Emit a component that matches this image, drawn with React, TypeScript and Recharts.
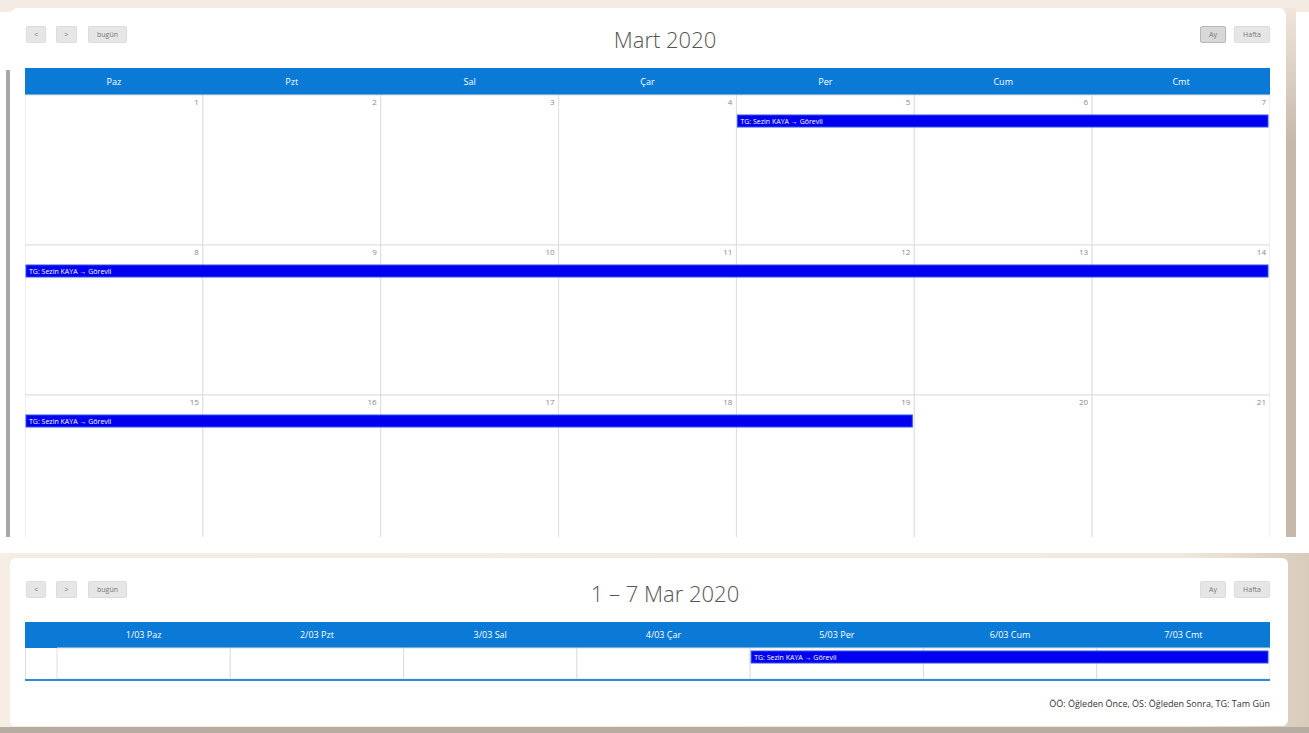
import React from 'react';
import { BarChart, Bar, XAxis, YAxis, LabelList } from 'recharts';

const dayNames = ['Paz', 'Pzt', 'Sal', 'Çar', 'Per', 'Cum', 'Cmt'];
const weekDayHeaders = ['1/03 Paz', '2/03 Pzt', '3/03 Sal', '4/03 Çar', '5/03 Per', '6/03 Cum', '7/03 Cmt'];
const monthWeeks = ['1-7 Mar', '8-14 Mar', '15-21 Mar'];
const monthDayNumbers = [
  [1, 2, 3, 4, 5, 6, 7],
  [8, 9, 10, 11, 12, 13, 14],
  [15, 16, 17, 18, 19, 20, 21],
];
// event span per week row, in day columns [start, end)
const monthEventSpans = [[4, 7], [0, 7], [0, 5]];
const weekRowNames = ['tüm gün'];
const weekEventSpans = [[4, 7]];
const eventTitle = 'TG: Sezin KAYA → Görevli';
const legendText = 'ÖÖ: Öğleden Önce, ÖS: Öğleden Sonra, TG: Tam Gün';

const HEADER_BLUE = '#0a7ad6';
const EVENT_BLUE = '#0000f0';
const BORDER = '#dedede';
const FONT = '"Open Sans", sans-serif';

const colCenters = dayNames.map((_, i) => i + 0.5);

const buildRows = (names: string[], spans: number[][], numbers?: number[][]) =>
  names.map((week, r) => {
    const row: any = { week, ev: spans[r] };
    dayNames.forEach((_, i) => {
      row[`c${i}`] = 1;
      if (numbers) row[`n${i}`] = numbers[r][i];
    });
    return row;
  });

const monthRows = buildRows(monthWeeks, monthEventSpans, monthDayNumbers);
const weekRows = buildRows(weekRowNames, weekEventSpans);

const HeaderTick = ({ x, payload, labels, h }: any) => (
  <text x={x} y={h / 2} dy={3} textAnchor="middle" fill="#fff" fontSize={9} fontFamily={FONT}>
    {labels[Math.floor(payload.value)]}
  </text>
);

const eventShape = (top: number) => (p: any) => {
  if (!p.width) return <g />;
  return (
    <g>
      <rect x={p.x + 1} y={p.y + top} width={p.width - 3} height={12} fill={EVENT_BLUE} stroke="#3050ee" />
      <text x={p.x + 4} y={p.y + top + 9} fill="#fff" fontSize={7} fontFamily={FONT}>{eventTitle}</text>
    </g>
  );
};

function CalendarGrid({ rows, headers, width, height, headerH, axisW, eventTop, showNumbers }: any) {
  const common = {
    layout: 'vertical' as const,
    width,
    height,
    data: rows,
    margin: { top: 0, right: 0, bottom: 0, left: 0 },
    barCategoryGap: 0,
  };
  const yAxis = (
    <YAxis type="category" dataKey="week" width={axisW} hide={axisW === 0} tick={false} axisLine={false} tickLine={false} />
  );
  return (
    <div style={{ position: 'relative', width, height }}>
      <div style={{ position: 'absolute', left: 0, top: 0, width, height: headerH, background: HEADER_BLUE }} />
      <div style={{ position: 'absolute', left: 0, top: 0 }}>
        <BarChart {...common}>
          <XAxis
            type="number"
            orientation="top"
            domain={[0, 7]}
            ticks={colCenters}
            interval={0}
            height={headerH}
            axisLine={false}
            tickLine={false}
            tick={<HeaderTick labels={headers} h={headerH} />}
          />
          {yAxis}
          {dayNames.map((_, i) => (
            <Bar key={i} dataKey={`c${i}`} stackId="cells" fill="#fff" stroke={BORDER} isAnimationActive={false}>
              {showNumbers && (
                <LabelList dataKey={`n${i}`} position="insideTopRight" offset={4} fill="#888" fontSize={8} fontFamily={FONT} />
              )}
            </Bar>
          ))}
        </BarChart>
      </div>
      <div style={{ position: 'absolute', left: 0, top: 0 }}>
        <BarChart {...common}>
          <XAxis type="number" orientation="top" domain={[0, 7]} height={headerH} tick={false} axisLine={false} tickLine={false} />
          {yAxis}
          <Bar dataKey="ev" shape={eventShape(eventTop)} isAnimationActive={false} />
        </BarChart>
      </div>
    </div>
  );
}

const Btn = ({ left, top, w, label, active }: any) => (
  <div
    style={{
      position: 'absolute', left, top, width: w, height: 17, boxSizing: 'border-box',
      background: active ? '#d8d8d8' : '#e6e6e6', border: `1px solid ${active ? '#b8b8b8' : '#dcdcdc'}`,
      borderRadius: 2, fontSize: 7, color: '#777', textAlign: 'center', lineHeight: '15px', fontFamily: FONT,
    }}
  >
    {label}
  </div>
);

const Title = ({ top, text }: any) => (
  <div
    style={{
      position: 'absolute', left: 465, top, width: 400, textAlign: 'center', fontFamily: FONT,
      fontWeight: 300, fontSize: 22, lineHeight: '22px', color: '#555',
    }}
  >
    {text}
  </div>
);

const Toolbar = ({ top, activeMonth }: any) => (
  <>
    <Btn left={26} top={top} w={20} label="<" />
    <Btn left={56} top={top} w={21} label=">" />
    <Btn left={88} top={top} w={39} label="bugün" />
    <Btn left={1200} top={top} w={26} label="Ay" active={activeMonth} />
    <Btn left={1234} top={top} w={36} label="Hafta" />
  </>
);

export default function App() {
  return (
    <div style={{ position: 'absolute', left: 0, top: 0, width: 1309, height: 733, background: '#fff', overflow: 'hidden' }}>
      {/* month view */}
      <div style={{ position: 'absolute', left: 0, top: 0, width: 1309, height: 537, overflow: 'hidden', background: '#fff' }}>
        <div style={{ position: 'absolute', left: 0, top: 0, width: 1309, height: 12, background: '#f4ece2' }} />
        <div style={{ position: 'absolute', left: 6, top: 70, width: 4, height: 480, background: '#a9a9a9' }} />
        <div style={{ position: 'absolute', left: 1284, top: 8, width: 12, height: 540, background: 'linear-gradient(#efe6dc, #c6b9ab 25%)' }} />
        <div style={{ position: 'absolute', left: 10, top: 8, width: 1276, height: 560, background: '#fff', borderRadius: 8 }} />
        <Toolbar top={26} activeMonth />
        <Title top={28} text="Mart 2020" />
        <div style={{ position: 'absolute', left: 25, top: 68 }}>
          <CalendarGrid rows={monthRows} headers={dayNames} width={1245} height={477} headerH={27} axisW={0} eventTop={20} showNumbers />
        </div>
      </div>
      {/* week view */}
      <div style={{ position: 'absolute', left: 0, top: 553, width: 1309, height: 180, background: 'linear-gradient(90deg, #f6eee4, #f3e9de 90%, #d9cbbb)' }} />
      <div style={{ position: 'absolute', left: 0, top: 727, width: 1309, height: 6, background: '#b7aca1' }} />
      <div style={{ position: 'absolute', left: 10, top: 558, width: 1278, height: 168, background: '#fff', borderRadius: 6 }} />
      <Toolbar top={581} activeMonth={false} />
      <Title top={582} text="1 – 7 Mar 2020" />
      <div style={{ position: 'absolute', left: 25, top: 648, width: 32, height: 31, boxSizing: 'border-box', borderLeft: `1px solid ${BORDER}` }} />
      <div style={{ position: 'absolute', left: 25, top: 622 }}>
        <CalendarGrid rows={weekRows} headers={weekDayHeaders} width={1245} height={57} headerH={26} axisW={32} eventTop={3} showNumbers={false} />
      </div>
      <div style={{ position: 'absolute', left: 25, top: 679, width: 1245, height: 2, background: '#2f8ad6' }} />
      <div
        style={{
          position: 'absolute', right: 39, top: 697, fontSize: 9, color: '#333', fontFamily: FONT, whiteSpace: 'nowrap',
        }}
      >
        {legendText}
      </div>
    </div>
  );
}
